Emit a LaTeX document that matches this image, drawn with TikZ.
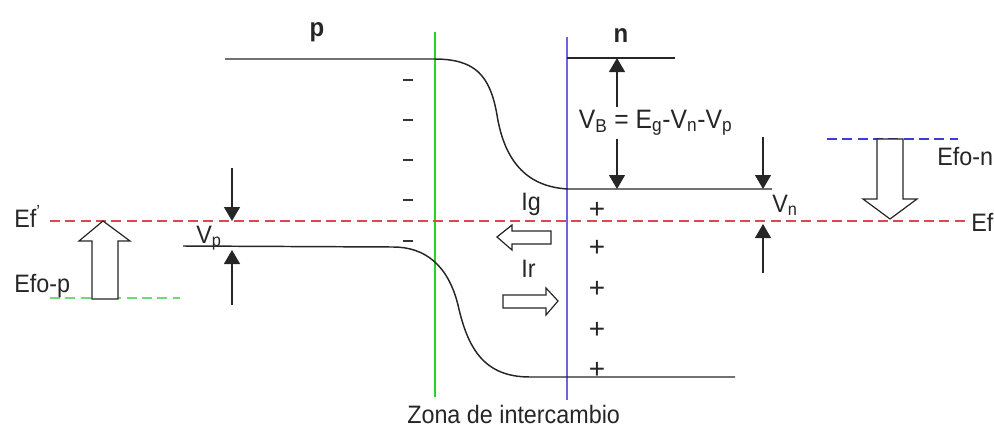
\documentclass[tikz,border=0pt]{standalone}
\usepackage{fontspec}
\setmainfont{Liberation Sans}
\usetikzlibrary{arrows.meta}
\definecolor{zgreen}{RGB}{40,210,40}
\definecolor{zblue}{RGB}{110,100,225}
\definecolor{dred}{RGB}{225,70,80}
\definecolor{dblue}{RGB}{60,60,215}
\definecolor{dgreen}{RGB}{110,220,110}
\newcommand{\tall}[1]{\scalebox{1}[1.08]{#1}}
\tikzset{
  band/.style={line width=1.1pt, black!85},
  lbl/.style={font=\fontsize{17.5}{20}\selectfont, inner sep=0pt, anchor=base west, text=black!85},
  sign/.style={font=\fontsize{21}{24}\selectfont, inner sep=0pt, text=black!85},
  minus/.style={line width=2pt, black!80},
  dim/.style={line width=0.9pt, black!85, -{Triangle[length=10.5pt,width=12pt]}},
  hollow/.style={line width=0.9pt, draw=black!85, fill=white, line join=miter},
  ldash/.style={line width=0.9pt, dash pattern=on 7.5pt off 4pt}
}
\begin{document}
\begin{tikzpicture}[x=0.75pt,y=-0.75pt]
\useasboundingbox (0,0) rectangle (994,428);

% junction region lines
\draw[zgreen, line width=1.2pt] (435,32) -- (435,397);
\draw[zblue, line width=1.2pt] (567,37) -- (567,400);

% Fermi level
\draw[dred, ldash] (50,221) -- (965,221);
\draw[dgreen, ldash] (50,298) -- (180,298);
\draw[dblue, ldash] (827,139) -- (958,139);

% conduction band
\draw[band] (225,59) -- (434,59)
  .. controls (475,59) and (490,75) .. (497,115)
  .. controls (505,165) and (530,187) .. (568,189) -- (772,189);
\draw[band] (567,58) -- (675,58);

% valence band
\draw[band] (183,246) -- (393,247)
  .. controls (425,247) and (448,265) .. (458,305)
  .. controls (468,350) and (485,377) .. (530,377) -- (735,377);

% labels p / n
\node[lbl, anchor=base, font=\fontsize{18}{20}\selectfont\bfseries] (p) at (317,37) {\tall{p}};
\node[lbl, anchor=base, font=\fontsize{18}{20}\selectfont\bfseries] (n) at (621,43) {\tall{n}};

% V_B dimension
\coordinate (vbt) at (617,58);
\coordinate (vbb) at (617,189);
\node[lbl, fill=white, inner sep=2pt, font=\fontsize{18.5}{22}\selectfont] (vb) at (576,128) {\tall{V\textsubscript{B} = E\textsubscript{g}-V\textsubscript{n}-V\textsubscript{p}}};
\draw[dim] (vb.north -| vbt) -- (vbt);
\draw[dim] (vb.south -| vbb) -- (vbb);

% V_p dimension
\coordinate (vpa) at (232,168);
\coordinate (vpb) at (232,221);
\coordinate (vpc) at (232,305);
\coordinate (vpd) at (232,250);
\draw[dim] (vpa) -- (vpb);
\draw[dim] (vpc) -- (vpd);
\node[lbl] (vp) at (196,243) {\tall{V\textsubscript{p}}};

% V_n dimension
\coordinate (vna) at (763,137);
\coordinate (vnb) at (763,189);
\coordinate (vnc) at (763,273);
\coordinate (vnd) at (763,224);
\draw[dim] (vna) -- (vnb);
\draw[dim] (vnc) -- (vnd);
\node[lbl] (vn) at (772,212) {\tall{V\textsubscript{n}}};

% charges
\foreach \y [count=\i] in {80,120,160,200,241}
  \draw[minus] (403,\y) coordinate (m\i) -- (413,\y);
\foreach \y [count=\i] in {210,248,289,330,370}
  \node[sign] (pl\i) at (597,\y) {+};

% currents
\node[lbl] (ig) at (521,210) {\tall{Ig}};
\draw[hollow] (497,237) -- (512,225) -- (512,231) -- (551,231) -- (551,244) -- (512,244) -- (512,250) -- cycle;
\node[lbl] (ir) at (521,277) {\tall{Ir}};
\draw[hollow] (558,301) -- (546,288) -- (546,295) -- (503,295) -- (503,308) -- (546,308) -- (546,315) -- cycle;

% big hollow arrows
\draw[hollow] (103,221) -- (130,241) -- (118,241) -- (118,299) -- (92,299) -- (92,241) -- (79,241) -- cycle;
\draw[hollow] (890,219) -- (917,199) -- (903,199) -- (903,139) -- (877,139) -- (877,199) -- (863,199) -- cycle;

% Fermi labels
\node[lbl] (efp) at (14,227) {\tall{Ef\textsuperscript{'}}};
\node[lbl] (efop) at (14,292) {\tall{Efo-p}};
\node[lbl] (efon) at (937,165) {\tall{Efo-n}};
\node[lbl] (ef) at (971,231) {\tall{Ef}};

\node[lbl] (zona) at (407,423) {\tall{Zona de intercambio}};
\end{tikzpicture}
\end{document}
